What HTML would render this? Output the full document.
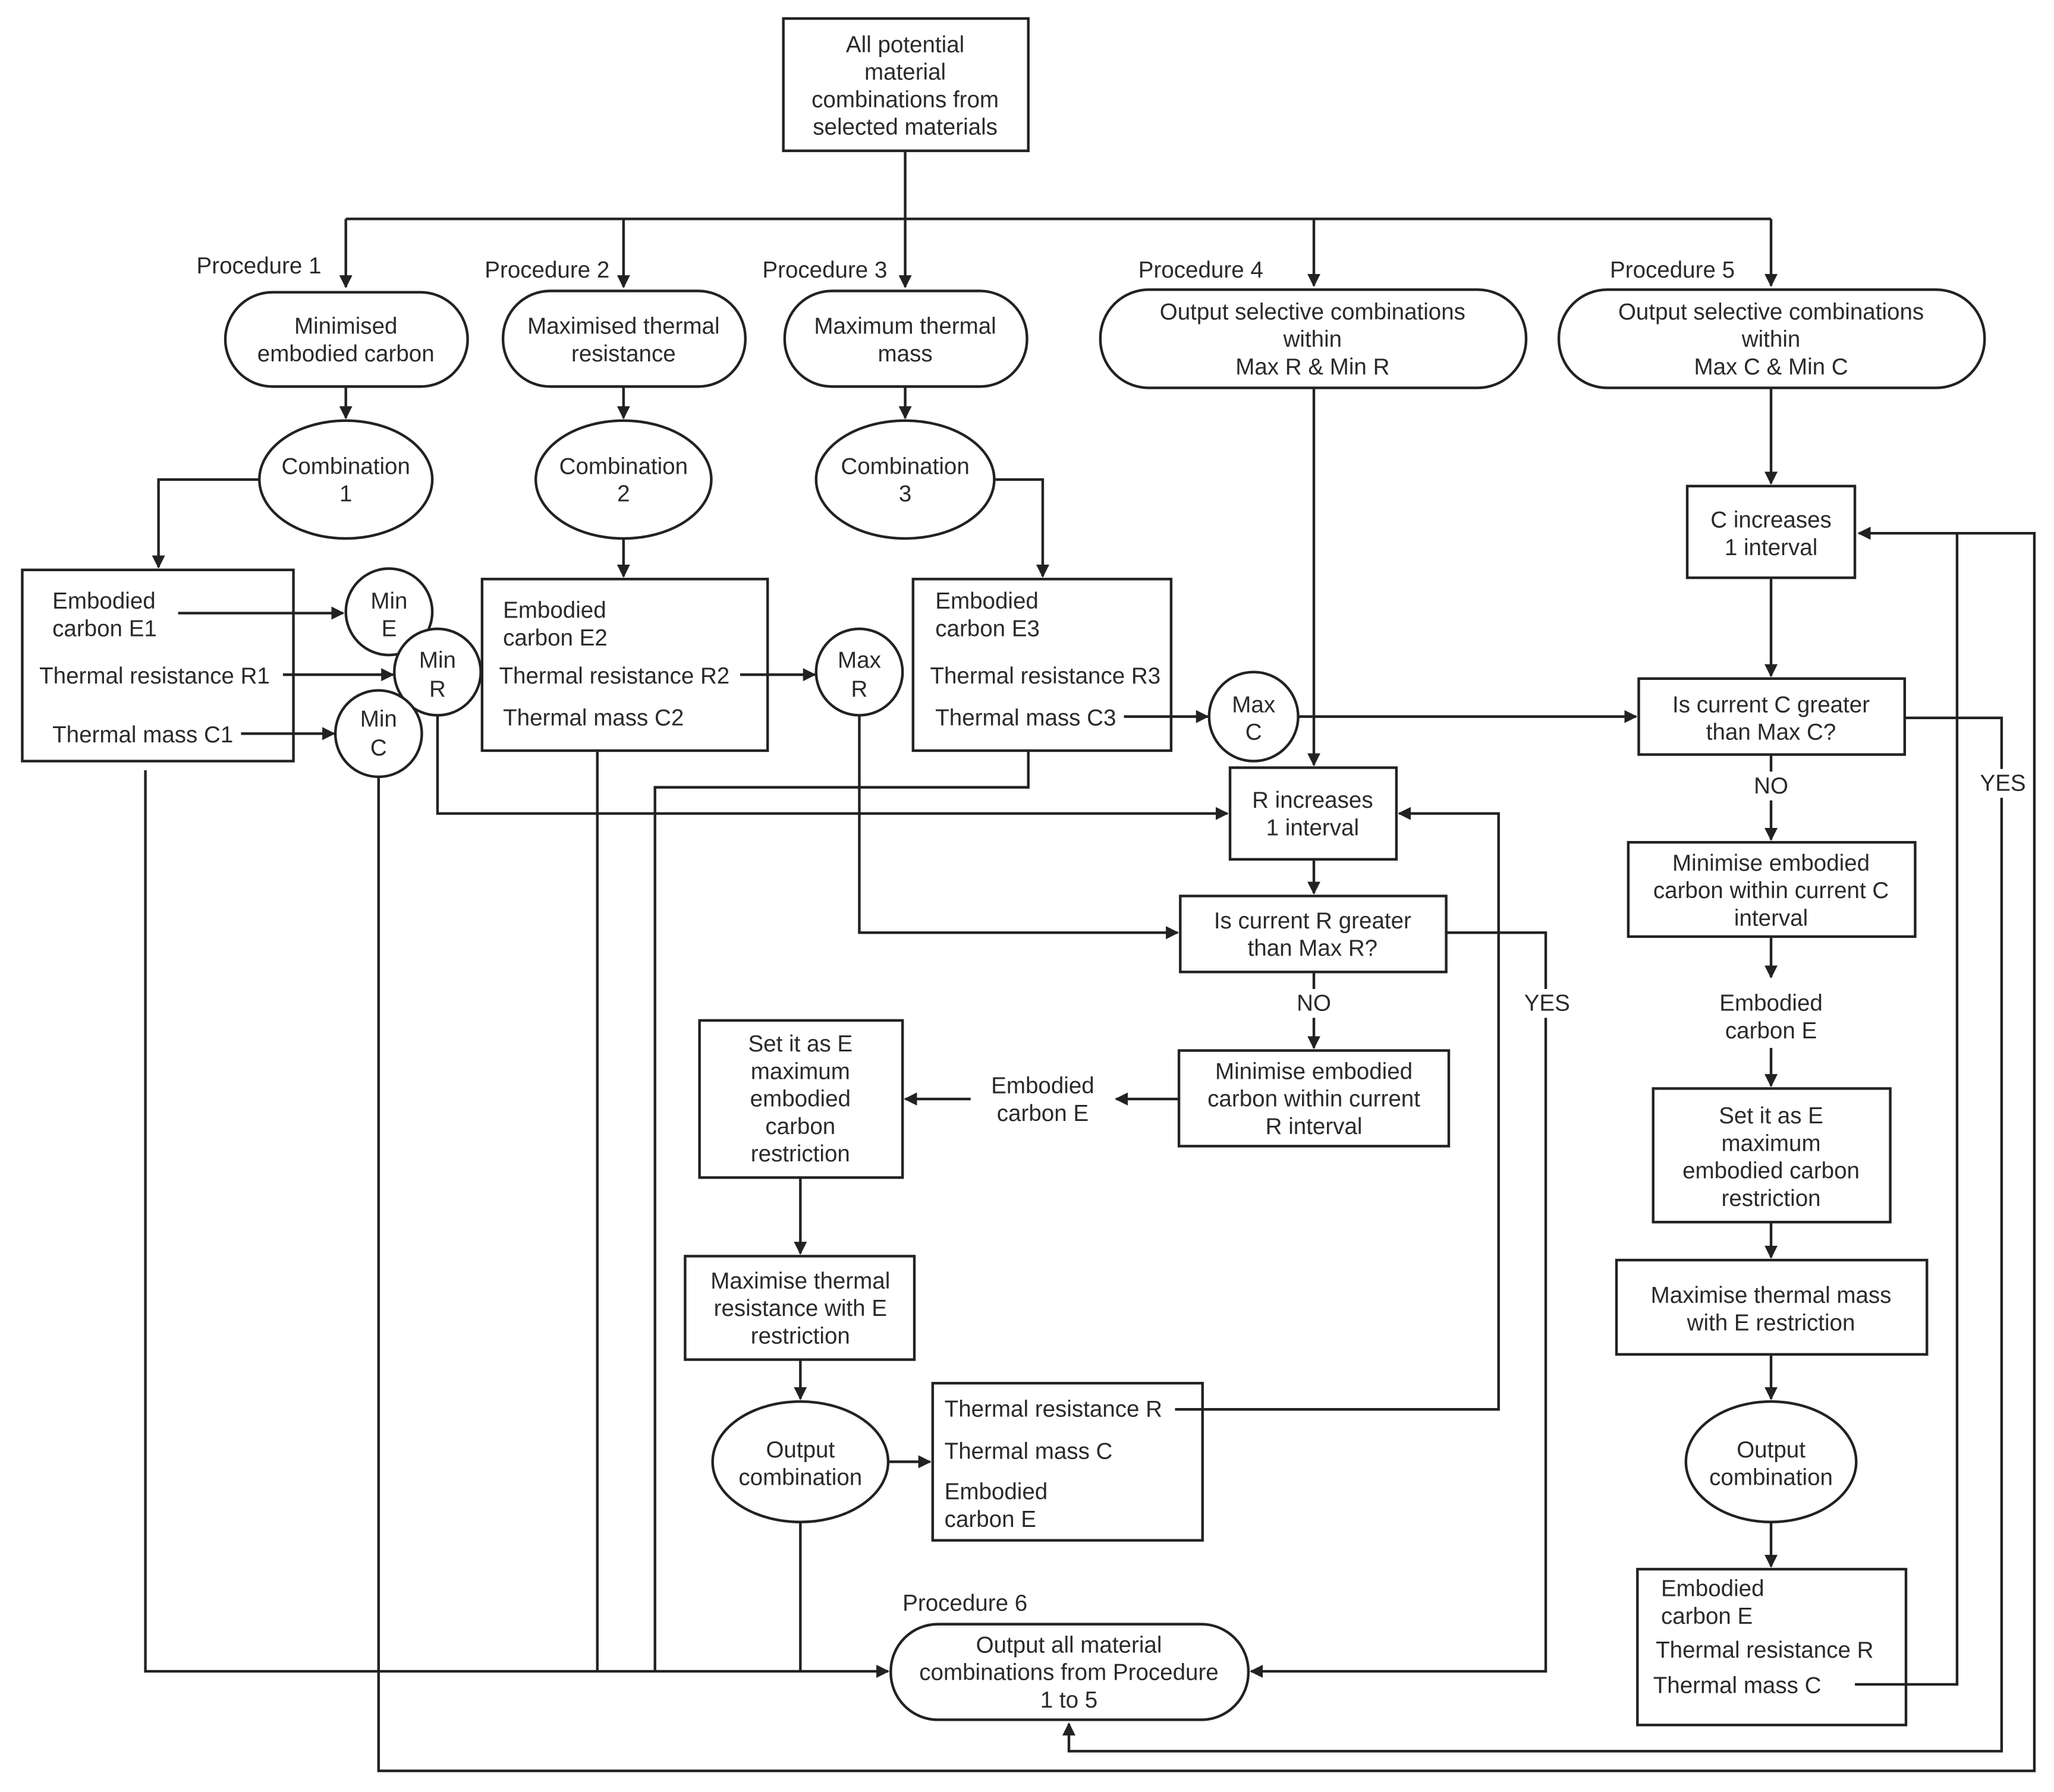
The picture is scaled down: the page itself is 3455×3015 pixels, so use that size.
<!DOCTYPE html>
<html><head><meta charset="utf-8"><style>
html,body{margin:0;padding:0;background:#fff;}
svg{display:block;}
text{font-family:"Liberation Sans",sans-serif;font-size:17.5px;fill:#2a2a2a;dominant-baseline:central;}
.c{text-anchor:middle;}
.s{fill:none;stroke:#222;stroke-width:2;}
.b{fill:#fff;stroke:#222;stroke-width:2;}
</style></head><body>
<svg width="3455" height="3015" viewBox="0 0 1568 1368" xmlns="http://www.w3.org/2000/svg">
<defs><marker id="a" markerWidth="10" markerHeight="10" refX="9" refY="5" orient="auto" markerUnits="userSpaceOnUse"><path d="M0,0 L10,5 L0,10 z" fill="#222"/></marker></defs>
<rect width="1568" height="1368" fill="#fff"/>

<!-- connectors -->
<g class="s">
<path d="M691,115 V167"/>
<path d="M264,167 H1352"/>
<path d="M264,167 V219" marker-end="url(#a)"/>
<path d="M476,167 V219" marker-end="url(#a)"/>
<path d="M691,167 V219" marker-end="url(#a)"/>
<path d="M1003,167 V218" marker-end="url(#a)"/>
<path d="M1352,167 V218" marker-end="url(#a)"/>
<path d="M264,295 V319" marker-end="url(#a)"/>
<path d="M476,295 V319" marker-end="url(#a)"/>
<path d="M691,295 V319" marker-end="url(#a)"/>
<path d="M198,366 H121 V433" marker-end="url(#a)"/>
<path d="M476,411 V440" marker-end="url(#a)"/>
<path d="M760,366 H796 V440" marker-end="url(#a)"/>
<path d="M991,547 H1249" marker-end="url(#a)"/>
<path d="M1003,296 V584" marker-end="url(#a)"/>
<path d="M1003,656 V682" marker-end="url(#a)"/>
<path d="M1104,712 H1180 V1276 H955" marker-end="url(#a)"/>
<path d="M1003,742 V800" marker-end="url(#a)"/>
<path d="M900,839 H852" marker-end="url(#a)"/>
<path d="M741,839 H691" marker-end="url(#a)"/>
<path d="M611,899 V957" marker-end="url(#a)"/>
<path d="M611,1038 V1068" marker-end="url(#a)"/>
<path d="M678,1116 H710" marker-end="url(#a)"/>
<path d="M611,1162 V1276"/>
<path d="M111,588 V1276 H678" marker-end="url(#a)"/>
<path d="M456,573 V1276"/>
<path d="M785,573 V601 H500 V1276"/>
<path d="M656,546 V712 H899" marker-end="url(#a)"/>
<path d="M334,546 V621 H937" marker-end="url(#a)"/>
<path d="M289,593 V1352 H1553 V407 H1419" marker-end="url(#a)"/>
<path d="M1454,548 H1528 V1337 H816 V1316" marker-end="url(#a)"/>
<path d="M1352,296 V369" marker-end="url(#a)"/>
<path d="M1352,441 V516" marker-end="url(#a)"/>
<path d="M1352,576 V641" marker-end="url(#a)"/>
<path d="M1352,715 V746" marker-end="url(#a)"/>
<path d="M1352,800 V829" marker-end="url(#a)"/>
<path d="M1352,933 V960" marker-end="url(#a)"/>
<path d="M1352,1034 V1068" marker-end="url(#a)"/>
<path d="M1352,1162 V1196" marker-end="url(#a)"/>
</g>

<!-- shapes -->
<rect class="b" x="598" y="14" width="187" height="101"/>
<rect class="b" x="172" y="223" width="185" height="72" rx="36"/>
<rect class="b" x="384" y="222" width="185" height="73" rx="36"/>
<rect class="b" x="599" y="222" width="185" height="73" rx="36"/>
<rect class="b" x="840" y="221" width="325" height="75" rx="37"/>
<rect class="b" x="1190" y="221" width="325" height="75" rx="37"/>
<ellipse class="b" cx="264" cy="366" rx="66" ry="45"/>
<ellipse class="b" cx="476" cy="366" rx="67" ry="45"/>
<ellipse class="b" cx="691" cy="366" rx="68" ry="45"/>
<rect class="b" x="17" y="435" width="207" height="146"/>
<rect class="b" x="368" y="442" width="218" height="131"/>
<rect class="b" x="697" y="442" width="197" height="131"/>
<circle class="b" cx="297" cy="467" r="33"/>
<circle class="b" cx="334" cy="513" r="33"/>
<circle class="b" cx="289" cy="560" r="33"/>
<circle class="b" cx="656" cy="513" r="33"/>
<circle class="b" cx="957" cy="547" r="34"/>
<rect class="b" x="939" y="586" width="127" height="70"/>
<rect class="b" x="901" y="684" width="203" height="58"/>
<rect class="b" x="900" y="802" width="206" height="73"/>
<rect class="b" x="534" y="779" width="155" height="120"/>
<rect class="b" x="523" y="959" width="175" height="79"/>
<ellipse class="b" cx="611" cy="1116" rx="67" ry="46"/>
<rect class="b" x="712" y="1056" width="206" height="120"/>
<rect class="b" x="680" y="1240" width="273" height="73" rx="36"/>
<rect class="b" x="1288" y="371" width="128" height="70"/>
<rect class="b" x="1251" y="518" width="203" height="58"/>
<rect class="b" x="1243" y="643" width="219" height="72"/>
<rect class="b" x="1262" y="831" width="181" height="102"/>
<rect class="b" x="1234" y="962" width="237" height="72"/>
<ellipse class="b" cx="1352" cy="1116" rx="65" ry="46"/>
<rect class="b" x="1250" y="1198" width="205" height="119"/>

<!-- connectors starting inside boxes -->
<g class="s">
<path d="M136,468 H262" marker-end="url(#a)"/>
<path d="M216,515 H300" marker-end="url(#a)"/>
<path d="M184,560 H255" marker-end="url(#a)"/>
<path d="M565,515 H622" marker-end="url(#a)"/>
<path d="M858,547 H922" marker-end="url(#a)"/>
<path d="M897,1076 H1144 V621 H1068" marker-end="url(#a)"/>
<path d="M1416,1286 H1494 V407"/>
</g>

<!-- label backgrounds -->
<rect x="1164" y="755" width="34" height="22" fill="#fff"/>
<rect x="1512" y="587" width="34" height="22" fill="#fff"/>
<rect x="989" y="755" width="28" height="22" fill="#fff"/>
<rect x="1338" y="589" width="28" height="22" fill="#fff"/>

<!-- text -->
<g>
<text class="c" x="691" y="34">All potential</text>
<text class="c" x="691" y="55">material</text>
<text class="c" x="691" y="76">combinations from</text>
<text class="c" x="691" y="97">selected materials</text>
<text x="150" y="203">Procedure 1</text>
<text x="370" y="206">Procedure 2</text>
<text x="582" y="206">Procedure 3</text>
<text x="869" y="206">Procedure 4</text>
<text x="1229" y="206">Procedure 5</text>
<text x="689" y="1224">Procedure 6</text>
<text class="c" x="264" y="249">Minimised</text>
<text class="c" x="264" y="270">embodied carbon</text>
<text class="c" x="476" y="249">Maximised thermal</text>
<text class="c" x="476" y="270">resistance</text>
<text class="c" x="691" y="249">Maximum thermal</text>
<text class="c" x="691" y="270">mass</text>
<text class="c" x="1002" y="238">Output selective combinations</text>
<text class="c" x="1002" y="259">within</text>
<text class="c" x="1002" y="280">Max R &amp; Min R</text>
<text class="c" x="1352" y="238">Output selective combinations</text>
<text class="c" x="1352" y="259">within</text>
<text class="c" x="1352" y="280">Max C &amp; Min C</text>
<text class="c" x="264" y="356">Combination</text>
<text class="c" x="264" y="377">1</text>
<text class="c" x="476" y="356">Combination</text>
<text class="c" x="476" y="377">2</text>
<text class="c" x="691" y="356">Combination</text>
<text class="c" x="691" y="377">3</text>
<text x="40" y="459">Embodied</text>
<text x="40" y="480">carbon E1</text>
<text x="30" y="516">Thermal resistance R1</text>
<text x="40" y="561">Thermal mass C1</text>
<text x="384" y="466">Embodied</text>
<text x="384" y="487">carbon E2</text>
<text x="381" y="516">Thermal resistance R2</text>
<text x="384" y="548">Thermal mass C2</text>
<text x="714" y="459">Embodied</text>
<text x="714" y="480">carbon E3</text>
<text x="710" y="516">Thermal resistance R3</text>
<text x="714" y="548">Thermal mass C3</text>
<text class="c" x="297" y="459">Min</text>
<text class="c" x="297" y="480">E</text>
<text class="c" x="334" y="504">Min</text>
<text class="c" x="334" y="526">R</text>
<text class="c" x="289" y="549">Min</text>
<text class="c" x="289" y="571">C</text>
<text class="c" x="656" y="504">Max</text>
<text class="c" x="656" y="526">R</text>
<text class="c" x="957" y="538">Max</text>
<text class="c" x="957" y="559">C</text>
<text class="c" x="1002" y="611">R increases</text>
<text class="c" x="1002" y="632">1 interval</text>
<text class="c" x="1002" y="703">Is current R greater</text>
<text class="c" x="1002" y="724">than Max R?</text>
<text class="c" x="1003" y="766">NO</text>
<text class="c" x="1181" y="766">YES</text>
<text class="c" x="1003" y="818">Minimise embodied</text>
<text class="c" x="1003" y="839">carbon within current</text>
<text class="c" x="1003" y="860">R interval</text>
<text class="c" x="796" y="829">Embodied</text>
<text class="c" x="796" y="850">carbon E</text>
<text class="c" x="611" y="797">Set it as E</text>
<text class="c" x="611" y="818">maximum</text>
<text class="c" x="611" y="839">embodied</text>
<text class="c" x="611" y="860">carbon</text>
<text class="c" x="611" y="881">restriction</text>
<text class="c" x="611" y="978">Maximise thermal</text>
<text class="c" x="611" y="999">resistance with E</text>
<text class="c" x="611" y="1020">restriction</text>
<text class="c" x="611" y="1107">Output</text>
<text class="c" x="611" y="1128">combination</text>
<text x="721" y="1076">Thermal resistance R</text>
<text x="721" y="1108">Thermal mass C</text>
<text x="721" y="1139">Embodied</text>
<text x="721" y="1160">carbon E</text>
<text class="c" x="816" y="1256">Output all material</text>
<text class="c" x="816" y="1277">combinations from Procedure</text>
<text class="c" x="816" y="1298">1 to 5</text>
<text class="c" x="1352" y="397">C increases</text>
<text class="c" x="1352" y="418">1 interval</text>
<text class="c" x="1352" y="538">Is current C greater</text>
<text class="c" x="1352" y="559">than Max C?</text>
<text class="c" x="1352" y="600">NO</text>
<text class="c" x="1529" y="598">YES</text>
<text class="c" x="1352" y="659">Minimise embodied</text>
<text class="c" x="1352" y="680">carbon within current C</text>
<text class="c" x="1352" y="701">interval</text>
<text class="c" x="1352" y="766">Embodied</text>
<text class="c" x="1352" y="787">carbon E</text>
<text class="c" x="1352" y="852">Set it as E</text>
<text class="c" x="1352" y="873">maximum</text>
<text class="c" x="1352" y="894">embodied carbon</text>
<text class="c" x="1352" y="915">restriction</text>
<text class="c" x="1352" y="989">Maximise thermal mass</text>
<text class="c" x="1352" y="1010">with E restriction</text>
<text class="c" x="1352" y="1107">Output</text>
<text class="c" x="1352" y="1128">combination</text>
<text x="1268" y="1213">Embodied</text>
<text x="1268" y="1234">carbon E</text>
<text x="1264" y="1260">Thermal resistance R</text>
<text x="1262" y="1287">Thermal mass C</text>
</g>
</svg>
</body></html>
